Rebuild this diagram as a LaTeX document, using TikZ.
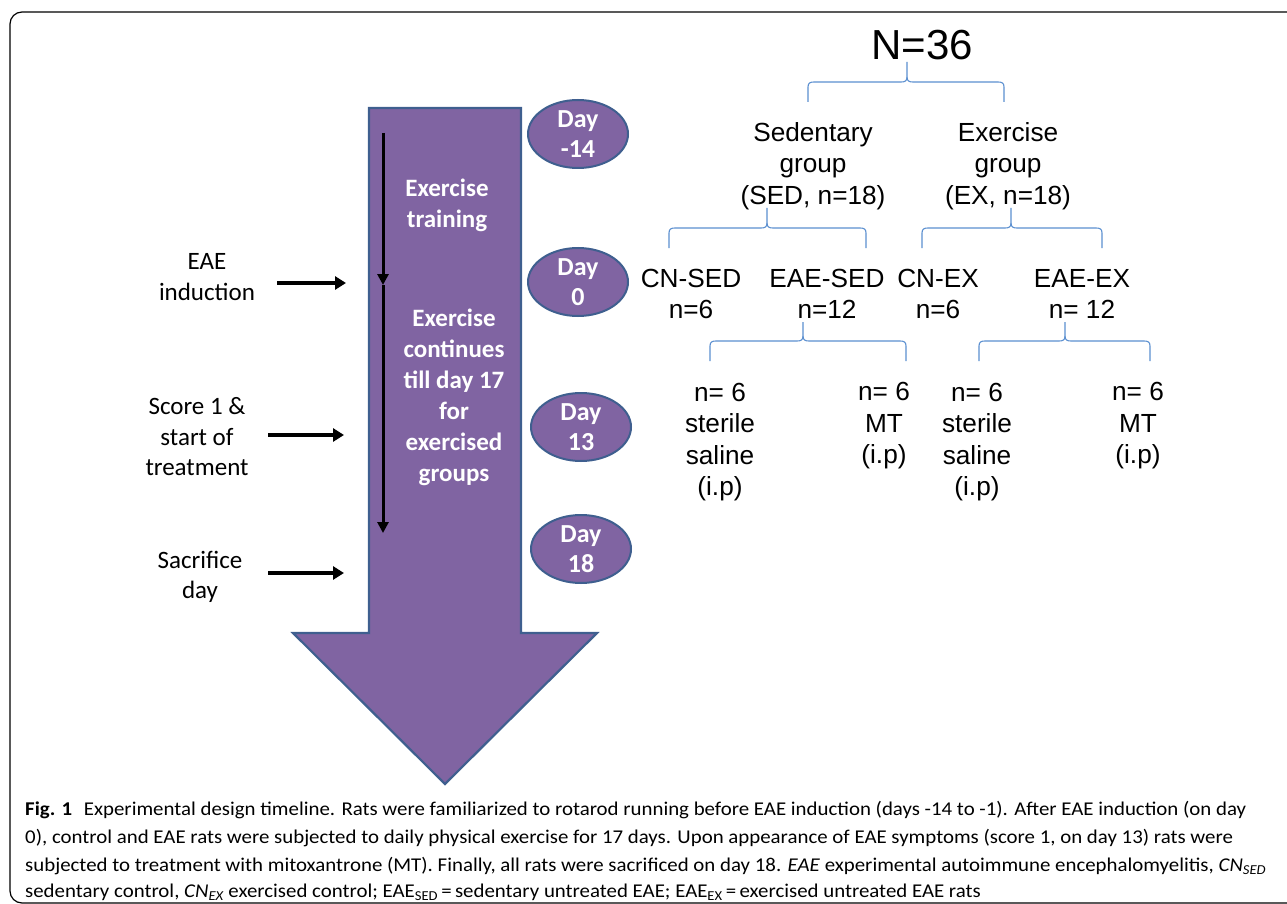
\documentclass[tikz,border=0pt]{standalone}
\usepackage{fontspec}
\setmainfont{Carlito}
\newfontfamily\arialf{Liberation Sans}
\newfontfamily\calf{Carlito}
\newfontfamily\capf[FakeStretch=1.07]{Carlito}
\usetikzlibrary{arrows.meta,shapes.geometric}
\definecolor{purp}{HTML}{8064A2}
\definecolor{purpedge}{HTML}{3F5F8F}
\definecolor{brace}{HTML}{5B8FD0}
\tikzset{
  lefttxt/.style={align=center, font=\calf\fontsize{25}{30.5}\selectfont, inner sep=0pt},
  whitetxt/.style={align=center, text=white, font=\calf\bfseries\fontsize{25}{31}\selectfont, inner sep=0pt},
  dayell/.style={ellipse, draw=purpedge, line width=2pt, fill=purp, minimum width=100pt, minimum height=68pt, inner sep=0pt, align=center, text=white, font=\calf\bfseries\fontsize{26}{29.5}\selectfont},
  righttxt/.style={align=center, font=\arialf\fontsize{26.2}{31.5}\selectfont, inner sep=0pt},
  evarrow/.style={line width=4pt, -{Triangle[length=11pt,width=13pt]}},
  bracepath/.style={draw=brace, line width=1.1pt},
  captxt/.style={anchor=base west, inner sep=0pt, font=\capf\fontsize{19.5}{24}\selectfont},
}
\newcommand{\mybrace}[5]{% left x, right x, tip x, horizontal y, top y ; bottom = y+20
  \draw[bracepath] (#1,#4+20) -- (#1,#4+5) .. controls (#1,#4+1) and (#1+2,#4) .. (#1+6,#4)
    -- (#3-6,#4) .. controls (#3-2,#4) and (#3,#4-1) .. (#3,#4-5) -- (#3,#5);
  \draw[bracepath] (#2,#4+20) -- (#2,#4+5) .. controls (#2,#4+1) and (#2-2,#4) .. (#2-6,#4)
    -- (#3+6,#4) .. controls (#3+2,#4) and (#3,#4-1) .. (#3,#4-5);
}
\begin{document}
\begin{tikzpicture}[x=1pt,y=-1pt]
\useasboundingbox (0,0) rectangle (1287,904);
\begin{scope}
\clip (0,0) rectangle (1287,904);
\draw[line width=1.2pt, rounded corners=12pt] (10,12) rectangle (1310,903);
\end{scope}

% big arrow
\draw[draw=purpedge, fill=purp, line width=2.2pt, line join=miter]
  (369,108) -- (521,108) -- (521,633) -- (597,633) -- (445,784) -- (293,633) -- (369,633) -- cycle;

% inner black timeline
\coordinate (t0) at (383,133);
\coordinate (t1) at (383,285);
\coordinate (t2) at (383,533);
\draw[line width=3pt, -{Triangle[length=11pt,width=11pt]}] (t0) -- (t1);
\draw[line width=3pt, -{Triangle[length=11pt,width=11pt]}] (t1) -- (t2);

\node[whitetxt] (extrain) at (447,205) {Exercise\\training};
\node[whitetxt] (excont) at (454,397) {Exercise\\continues\\till day 17\\for\\exercised\\groups};

% day ellipses
\node[dayell] (d14) at (578,134) {Day\\-14};
\node[dayell] (d0) at (578,282) {Day\\0};
\node[dayell] (d13) at (581,427) {Day\\13};
\node[dayell] (d18) at (581,549) {Day\\18};

% left labels
\node[lefttxt] (eae) at (207,277) {EAE\\induction};
\node[lefttxt] (score) at (197,437) {Score 1 \&\\start of\\treatment};
\node[lefttxt] (sac) at (200,577) {Sacrifice\\day};
\coordinate (a1s) at (277,283); \coordinate (a1e) at (346,283);
\coordinate (a2s) at (268,435); \coordinate (a2e) at (344,435);
\coordinate (a3s) at (268,573); \coordinate (a3e) at (344,573);
\draw[evarrow] (a1s) -- (a1e);
\draw[evarrow] (a2s) -- (a2e);
\draw[evarrow] (a3s) -- (a3e);

% right tree
\node[inner sep=0pt, font=\arialf\fontsize{42}{48}\selectfont] (N) at (922,45) {N=36};
\mybrace{808}{1004}{907}{82}{62}
\node[righttxt] (sed) at (813,166) {Sedentary\\group\\(SED, n=18)};
\node[righttxt] (ex) at (1008,166) {Exercise\\group\\(EX, n=18)};
\mybrace{669}{866}{767}{228}{208}
\mybrace{922}{1102}{1011}{228}{208}
\node[righttxt] (cnsed) at (691,294) {CN-SED\\n=6};
\node[righttxt] (eaesed) at (827,294) {EAE-SED\\n=12};
\node[righttxt] (cnex) at (938,294) {CN-EX\\n=6};
\node[righttxt] (eaeex) at (1082,294) {EAE-EX\\n= 12};
\mybrace{710}{906}{803}{341}{322}
\mybrace{979}{1150}{1065}{341}{322}
\node[righttxt] (s1) at (720,442) {n= 6\\sterile\\saline\\(i.p)};
\node[righttxt] (m1) at (884,426) {n= 6\\MT\\(i.p)};
\node[righttxt] (s2) at (977,442) {n= 6\\sterile\\saline\\(i.p)};
\node[righttxt] (m2) at (1138,426) {n= 6\\MT\\(i.p)};

% caption
\node[captxt] (c1) at (25,815) {\textbf{Fig. 1}\hspace{0.6em}Experimental design timeline. Rats were familiarized to rotarod running before EAE induction (days -14 to -1). After EAE induction (on day};
\node[captxt] (c2) at (25,843) {0), control and EAE rats were subjected to daily physical exercise for 17 days. Upon appearance of EAE symptoms (score 1, on day 13) rats were};
\node[captxt] (c3) at (25,871) {subjected to treatment with mitoxantrone (MT). Finally, all rats were sacrificed on day 18. \textit{EAE} experimental autoimmune encephalomyelitis, \textit{CN\textsubscript{SED}}};
\node[captxt] (c4) at (25,897) {sedentary control, \textit{CN\textsubscript{EX}} exercised control; EAE\textsubscript{SED}\,=\,sedentary untreated EAE; EAE\textsubscript{EX}\,=\,exercised untreated EAE rats};
\end{tikzpicture}
\end{document}
